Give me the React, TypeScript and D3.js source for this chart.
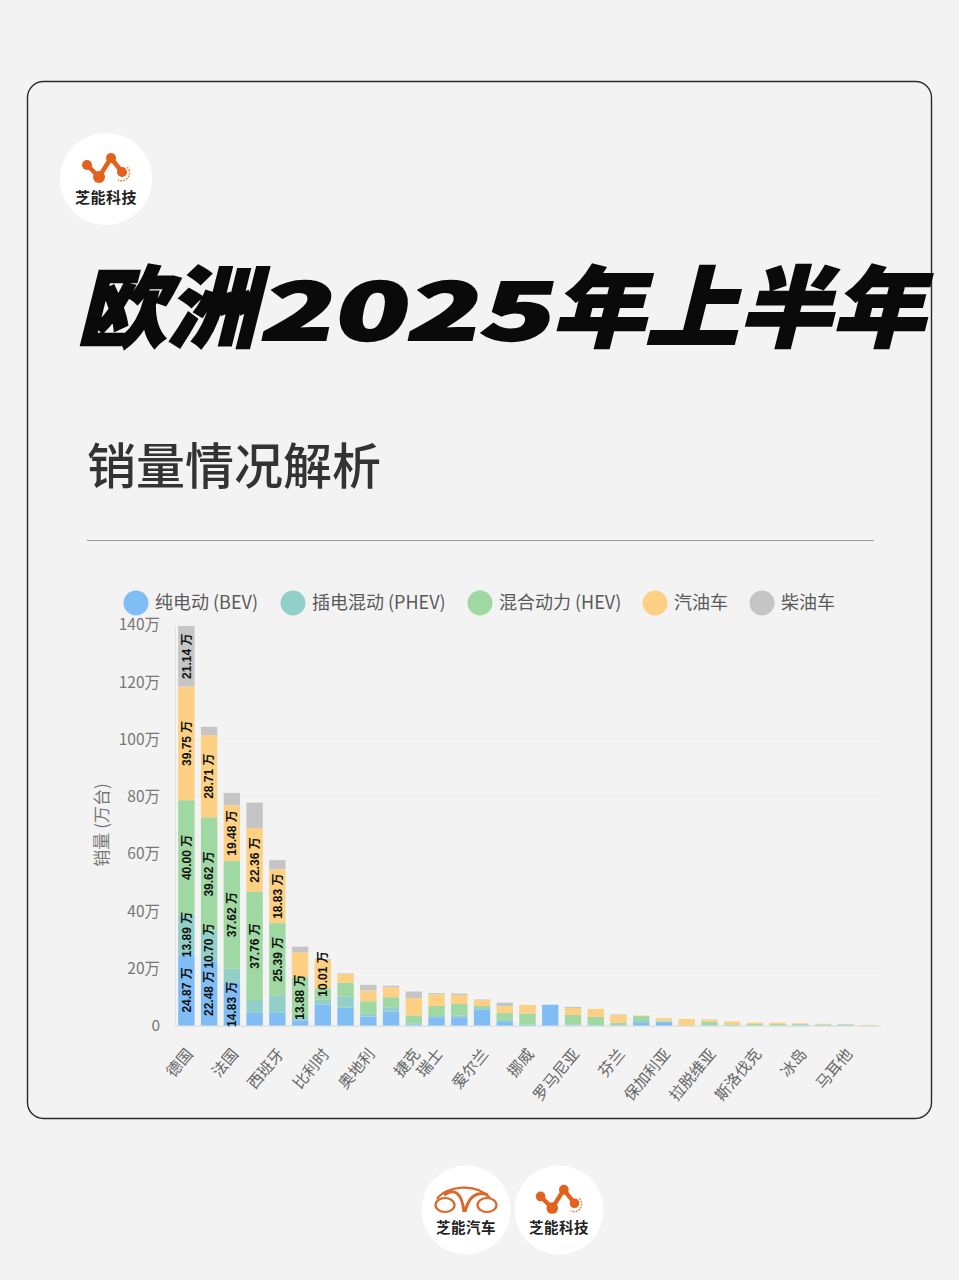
import { useEffect, useRef } from 'react';
import * as d3 from 'd3';

const CJK = '"Noto Sans CJK SC", "Noto Sans", sans-serif';

// only every other country name is printed in the reference, the rest are hidden by the axis
const countries = [
  '德国', '英国', '法国', '意大利', '西班牙', '荷兰', '比利时', '瑞典', '奥地利', '波兰', '捷克',
  '瑞士', '丹麦', '爱尔兰', '葡萄牙', '挪威', '希腊', '罗马尼亚', '匈牙利', '芬兰', '克罗地亚',
  '保加利亚', '卢森堡', '拉脱维亚', '立陶宛', '斯洛伐克', '斯洛文尼亚', '冰岛', '爱沙尼亚', '马耳他', '塞浦路斯',
];
const shownCountries = [
  '德国', '法国', '西班牙', '比利时', '奥地利', '捷克', '瑞士', '爱尔兰', '挪威', '罗马尼亚', '芬兰',
  '保加利亚', '拉脱维亚', '斯洛伐克', '冰岛', '马耳他',
];

const seriesKeys = ['bev', 'phev', 'hev', 'petrol', 'diesel'];
const seriesNames = ['纯电动 (BEV)', '插电混动 (PHEV)', '混合动力 (HEV)', '汽油车', '柴油车'];
const seriesColors = ['#7fbdf4', '#92cfc9', '#9fd8a2', '#fdd083', '#c5c5c5'];
const legendX = [136, 293, 480, 655, 762];

const bev = [24.87, 22.48, 14.83, 4.4, 4.4, 1.8, 7.3, 6.2, 3.1, 4.9, 0.4, 2.9, 2.9, 5.6, 1.2, 0.2, 7.2, 0.1, 0.1, 0.1, 0.9, 1.2, 0, 0.1, 0, 0, 0, 0.1, 0.1, 0.1, 0];
const phev = [13.89, 10.7, 5.1, 4.5, 6.0, 1.2, 1.7, 3.9, 1.2, 1.5, 0.4, 0.4, 0.6, 0.5, 0.8, 0.1, 0.1, 0.3, 0.1, 0.1, 1.0, 0.2, 0, 0.1, 0, 0, 0.1, 0.1, 0.1, 0.1, 0];
const hev = [40.0, 39.62, 37.62, 37.76, 25.39, 13.88, 4.0, 4.9, 4.2, 3.5, 2.7, 3.5, 4.0, 0.7, 2.4, 3.9, 0, 3.3, 2.8, 0.8, 1.4, 0.3, 0.1, 1.2, 0.4, 0.5, 0.4, 0.3, 0.2, 0.2, 0.1];
const petrol = [39.75, 28.71, 19.48, 22.36, 18.83, 8.7, 10.01, 3.0, 3.7, 3.4, 6.1, 4.1, 3.2, 2.1, 2.4, 3.0, 0, 2.4, 2.8, 2.7, 0.2, 0.9, 2.2, 0.7, 1.0, 0.5, 0.5, 0.3, 0.2, 0.1, 0.1];
const diesel = [21.14, 2.9, 4.3, 8.9, 3.2, 2.0, 0.3, 0.2, 2.0, 0.6, 2.3, 0.4, 0.5, 0.2, 1.2, 0, 0, 0.4, 0, 0.2, 0, 0, 0, 0, 0, 0, 0, 0, 0, 0, 0];

const yTicks = [0, 20, 40, 60, 80, 100, 120, 140];

const labelMin = 10; // segments under 10万 have no value label

const rows = countries.map((c, i) => ({
  country: c,
  bev: bev[i],
  phev: phev[i],
  hev: hev[i],
  petrol: petrol[i],
  diesel: diesel[i],
}));

function Chart() {
  const ref = useRef<SVGGElement | null>(null);

  useEffect(() => {
    const g = d3.select(ref.current);
    g.selectAll('*').remove();

    const x = d3
      .scaleBand<string>()
      .domain(countries)
      .range([175, 880])
      .paddingInner(0.28)
      .paddingOuter(0.14);
    const y = d3.scaleLinear().domain([0, 140]).range([1025.5, 625]);

    // grid first, bars sit on top
    g.append('g')
      .selectAll('line')
      .data(yTicks.slice(1))
      .join('line')
      .attr('x1', 175)
      .attr('x2', 880)
      .attr('y1', (d) => y(d))
      .attr('y2', (d) => y(d))
      .attr('stroke', '#efefef');

    const yAxis = d3
      .axisLeft(y)
      .tickValues(yTicks)
      .tickSize(0)
      .tickPadding(15)
      .tickFormat((d) => (d === 0 ? '0' : `${d}万`));
    g.append('g')
      .attr('transform', 'translate(175,0)')
      .call(yAxis)
      .call((sel) => sel.select('.domain').attr('stroke', '#e2e2e2'))
      .call((sel) =>
        sel.selectAll('text').attr('fill', '#777').attr('font-size', 15.5).attr('font-family', CJK),
      );

    const xAxis = d3.axisBottom(x).tickValues(countries.filter((c) => shownCountries.includes(c))).tickSize(0);
    g.append('g')
      .attr('transform', 'translate(0,1025.5)')
      .call(xAxis)
      .call((sel) => sel.select('.domain').attr('stroke', '#d6d6d6'))
      .call((sel) =>
        sel
          .selectAll('text')
          .attr('fill', '#666')
          .attr('font-size', 15.5)
          .attr('font-family', CJK)
          .attr('text-anchor', 'end')
          .attr('dy', 0)
          .attr('transform', 'translate(5,27) rotate(-50)'),
      );

    const stacked = d3.stack<(typeof rows)[number]>().keys(seriesKeys)(rows);

    const layers = g
      .append('g')
      .selectAll('g')
      .data(stacked)
      .join('g')
      .attr('fill', (_, i) => seriesColors[i]);
    layers
      .selectAll('rect')
      .data((d) => d)
      .join('rect')
      .attr('x', (d) => x(d.data.country) ?? 0)
      .attr('width', x.bandwidth())
      .attr('y', (d) => y(d[1]))
      .attr('height', (d) => y(d[0]) - y(d[1]));

    // rotated value labels, drawn after all the bars since some overflow their segment
    const labels = stacked.flatMap((layer) =>
      layer.filter((d) => d[1] - d[0] >= labelMin).map((d) => ({
        country: d.data.country,
        mid: (d[0] + d[1]) / 2,
        value: d[1] - d[0],
      })),
    );
    g.append('g')
      .selectAll('text')
      .data(labels)
      .join('text')
      .attr('transform', (d) => `translate(${(x(d.country) ?? 0) + x.bandwidth() / 2},${y(d.mid)}) rotate(-90)`)
      .attr('text-anchor', 'middle')
      .attr('dy', '0.36em')
      .attr('font-size', 12)
      .attr('font-weight', 700)
      .attr('font-family', '"Liberation Sans", "Noto Sans CJK SC", sans-serif')
      .attr('fill', '#111')
      .text((d) => `${d.value.toFixed(2)} 万`);
  }, []);

  return <g ref={ref} />;
}

function TechLogo({ cx, cy, r }: { cx: number; cy: number; r: number }) {
  return (
    <g transform={`translate(${cx},${cy})`}>
      <circle r={r} fill="#fff" />
      <g transform={`scale(${r / 46})`}>
        <path d="M-19,-14 L-7,-2 L5,-21 L16,-7" fill="none" stroke="#e2611c" strokeWidth={4.5} />
        <circle cx={-19} cy={-14} r={5} fill="#e2611c" />
        <circle cx={-7} cy={-2} r={6} fill="#e2611c" />
        <circle cx={5} cy={-21} r={5} fill="#e2611c" />
        <circle cx={16} cy={-7} r={5} fill="#e2611c" />
        <path d="M21,-12 A8,8 0 0 1 12,1" fill="none" stroke="#eb8a50" strokeWidth={1.5} strokeDasharray="2 1" />
        <text y={24} textAnchor="middle" fontSize={15} fontWeight={700} fill="#222" fontFamily={CJK} letterSpacing={0.5}>
          芝能科技
        </text>
      </g>
    </g>
  );
}

function CarLogo({ cx, cy, r }: { cx: number; cy: number; r: number }) {
  return (
    <g transform={`translate(${cx},${cy})`}>
      <circle r={r} fill="#fff" />
      <g fill="none" stroke="#d9682a" strokeWidth={2.2}>
        <ellipse cx={-21} cy={-5} rx={9.5} ry={7} />
        <ellipse cx={21} cy={-5} rx={9.5} ry={7} />
        <path d="M-29,-11 C-20,-24 10,-28 24,-12" />
        <path d="M-22,-15 C-12,-22 -4,-18 -2,2" strokeWidth={3} />
        <path d="M22,-15 C10,-20 2,-12 -1,2" strokeWidth={3} />
      </g>
      <text y={23} textAnchor="middle" fontSize={14.5} fontWeight={700} fill="#222" fontFamily={CJK} letterSpacing={0.5}>
        芝能汽车
      </text>
    </g>
  );
}

export default function App() {
  return (
    <svg
      width={959}
      height={1280}
      viewBox="0 0 959 1280"
      style={{ position: 'absolute', left: 0, top: 0 }}
      fontFamily={CJK}
    >
      <rect width={959} height={1280} fill="#f3f3f3" />
      <rect x={27.5} y={81.5} width={904} height={1037} rx={16} fill="#f3f3f3" stroke="#2a2a2a" strokeWidth={1.4} />

      <TechLogo cx={106} cy={179} r={46} />

      <g fill="#0a0a0a" fontWeight={900} stroke="#0a0a0a" strokeWidth={2}>
        <text transform="translate(77,340) skewX(-14) scale(1.02,1)" fontSize={88}>欧洲</text>
        <text transform="translate(258,340) skewX(-12) scale(1.5,1)" fontSize={80}>2025</text>
        <text transform="translate(552,340) skewX(-14) scale(1.06,1)" fontSize={88}>年上半年</text>
      </g>

      <text x={87} y={484} fontSize={49} fontWeight={500} fill="#333">销量情况解析</text>
      <line x1={87} x2={874} y1={540.5} y2={540.5} stroke="#9a9a9a" />

      {seriesNames.map((name, i) => (
        <g key={seriesKeys[i]}>
          <circle cx={legendX[i]} cy={603} r={12.5} fill={seriesColors[i]} />
          <text x={legendX[i] + 19} y={609} fontSize={18} fill="#5a5a5a">{name}</text>
        </g>
      ))}

      <text transform="translate(108,825) rotate(-90)" textAnchor="middle" fontSize={17} fill="#777">销量 (万台)</text>

      <Chart />

      <CarLogo cx={466} cy={1210} r={44.5} />
      <TechLogo cx={559} cy={1210} r={44.5} />
    </svg>
  );
}
